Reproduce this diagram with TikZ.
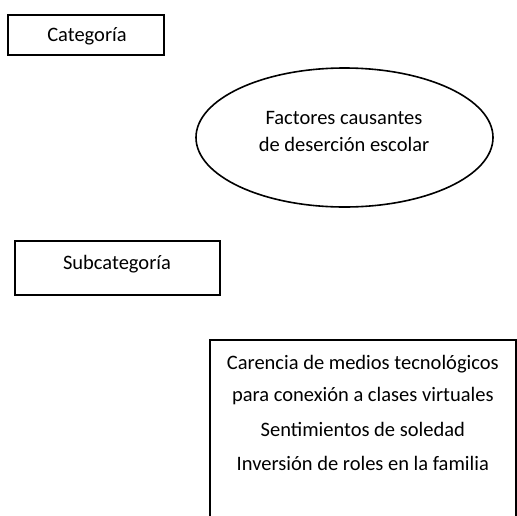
\documentclass[tikz,border=0pt]{standalone}
\usepackage{fontspec}
\setmainfont{Carlito}
\usetikzlibrary{shapes.geometric}

\tikzset{
  caja/.style={draw, line width=1.6pt, inner sep=0pt},
  texto/.style={inner sep=0pt, align=center, font=\fontsize{20.5}{27}\selectfont},
}

\begin{document}
\begin{tikzpicture}[x=1pt,y=-1pt]

    \useasboundingbox (0,0) rectangle (517,515);
    \clip (0,0) rectangle (517,515);

    \node [caja, minimum width=156pt, minimum height=40pt] (categoria) at (86,35) {};
    \node [texto] (categoriatxt) at (87,36) {Categoría};

    \node [caja, ellipse, minimum width=297pt, minimum height=139pt] (factores) at (344.5,137.5) {};
    \node [texto] (factorestxt) at (344,131) {Factores causantes\\de deserción escolar};

    \node [caja, minimum width=205pt, minimum height=54pt] (subcategoria) at (117.5,268) {};
    \node [texto] (subcategoriatxt) at (117,264) {Subcategoría};

    \node [caja, anchor=north west, minimum width=306pt, minimum height=200pt] (subfactores) at (209,339) {};
    \node [texto, anchor=north, font=\fontsize{20.5}{32}\selectfont] (lista) at ([yshift=-16pt]subfactores.north)
        {Carencia de medios tecnológicos\\para conexión a clases virtuales\\[3pt]
         Sentimientos de soledad\\[2pt]Inversión de roles en la familia};

\end{tikzpicture}
\end{document}
